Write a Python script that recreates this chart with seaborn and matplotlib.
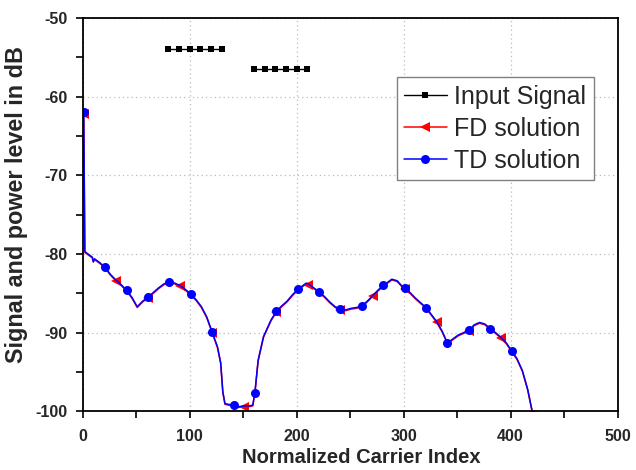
import numpy as np
import matplotlib
matplotlib.use("Agg")
import matplotlib.pyplot as plt
import seaborn as sns
from matplotlib.ticker import MultipleLocator

# ---- data ----
input_x1 = [80, 90, 100, 110, 120, 130]
input_y1 = [-54.0] * 6
input_x2 = [160, 170, 180, 190, 200, 210]
input_y2 = [-56.5] * 6

carrier_x = [1, 2, 6, 9, 10, 11, 16, 21, 26, 31, 36, 41, 46, 51, 56, 61, 66, 71, 76, 81,
             86, 91, 96, 101, 106, 111, 116, 121, 126, 129, 131, 133, 136, 141, 146, 151,
             156, 159, 161, 164, 169, 174, 176, 181, 186, 191, 196, 201, 206, 209, 211,
             216, 221, 226, 231, 236, 241, 246, 251, 256, 261, 266, 271, 276, 281, 286,
             289, 294, 298, 301, 306, 311, 316, 321, 326, 331, 336, 341, 346, 351, 356,
             361, 366, 371, 376, 381, 386, 391, 396, 401, 406, 411, 416, 421]
td_db = [-62.0, -79.7, -80.1, -80.4, -81.0, -80.6, -81.1, -81.7, -82.6, -83.3, -83.9, -84.6,
         -85.5, -86.7, -86.0, -85.5, -84.9, -84.3, -83.8, -83.5, -83.7, -84.0, -84.5, -85.1,
         -85.8, -86.7, -88.0, -89.9, -91.8, -93.8, -97.5, -99.0, -99.1, -99.2, -99.4, -99.3,
         -99.3, -99.2, -97.6, -93.5, -90.5, -89.0, -88.4, -87.3, -86.6, -86.0, -85.2, -84.5,
         -84.0, -83.7, -83.8, -84.3, -84.8, -85.4, -86.1, -86.7, -87.0, -87.1, -86.9, -86.8,
         -86.6, -86.0, -85.3, -84.6, -84.0, -83.5, -83.2, -83.4, -84.0, -84.3, -84.9, -85.6,
         -86.2, -86.8, -87.7, -88.6, -89.8, -91.3, -90.8, -90.3, -90.0, -89.7, -89.0, -88.7,
         -88.9, -89.5, -90.0, -90.6, -91.3, -92.3, -93.3, -94.8, -97.2, -100.5]
fd_db = [-62.2, -79.8, -80.2, -80.5, -81.0, -80.7, -81.2, -81.8, -82.7, -83.4, -84.0, -84.7,
         -85.6, -86.8, -86.1, -85.6, -85.0, -84.4, -83.9, -83.6, -83.8, -84.1, -84.6, -85.2,
         -85.9, -86.8, -88.1, -90.0, -91.9, -93.9, -97.6, -99.1, -99.2, -99.3, -99.5, -99.4,
         -99.4, -99.3, -97.7, -93.6, -90.6, -89.1, -88.5, -87.4, -86.7, -86.1, -85.3, -84.6,
         -84.1, -83.8, -83.9, -84.4, -84.9, -85.5, -86.2, -86.8, -87.1, -87.2, -87.0, -86.9,
         -86.7, -86.1, -85.4, -84.7, -84.1, -83.6, -83.3, -83.5, -84.1, -84.4, -85.0, -85.7,
         -86.3, -86.9, -87.8, -88.7, -89.9, -91.4, -90.9, -90.4, -90.1, -89.8, -89.1, -88.8,
         -89.0, -89.6, -90.1, -90.7, -91.4, -92.4, -93.4, -94.9, -97.3, -100.6]

xticks = [0, 100, 200, 300, 400, 500]
yticks = [-100, -90, -80, -70, -60, -50]

# ---- style ----
sns.set_theme(style="white")
plt.rcParams['font.family'] = ['Liberation Sans', 'DejaVu Sans']
plt.rcParams['axes.unicode_minus'] = False

fig = plt.figure(figsize=(6.36, 4.70), dpi=100)
ax = fig.add_axes([0.130, 0.1247, 0.841, 0.8372])

cx = np.array(carrier_x)
td_marks = list(np.where((cx - 1) % 20 == 0)[0])
fd_marks = list(np.where((cx - 1) % 30 == 0)[0])

# input signal (two groups, single legend entry)
sns.lineplot(x=input_x1, y=input_y1, ax=ax, color='black', marker='s', markersize=5,
             markeredgewidth=0, linewidth=1.0, label='Input Signal')
sns.lineplot(x=input_x2, y=input_y2, ax=ax, color='black', marker='s', markersize=5,
             markeredgewidth=0, linewidth=1.0, label='_nolegend_')

sns.lineplot(x=carrier_x, y=fd_db, ax=ax, color='red', marker='<', markersize=7,
             markeredgewidth=0, linewidth=1.1, markevery=fd_marks, label='FD solution',
             sort=False)
sns.lineplot(x=carrier_x, y=td_db, ax=ax, color='blue', marker='o', markersize=6.5,
             markeredgewidth=0, linewidth=1.1, markevery=td_marks, label='TD solution',
             sort=False)

ax.set_xlim(0, 500)
ax.set_ylim(-100, -50)
ax.set_xticks(xticks)
ax.set_yticks(yticks)
ax.xaxis.set_minor_locator(MultipleLocator(50))
ax.yaxis.set_minor_locator(MultipleLocator(5))
ax.tick_params(axis='both', which='both', direction='out', length=5, width=1.2,
               color='black', bottom=True, left=True, top=False, right=False)
ax.tick_params(axis='x', which='major', labelsize=11.5, pad=8)
ax.tick_params(axis='y', which='major', labelsize=11.5, pad=6)
for lab in ax.get_xticklabels() + ax.get_yticklabels():
    lab.set_fontweight('bold')

ax.grid(True, which='major', linestyle=(0, (1, 2.5)), color='#bbbbbb', linewidth=0.9)
for s in ax.spines.values():
    s.set_color('black')
    s.set_linewidth(1.3)
    s.set_visible(True)

ax.set_xlabel('Normalized Carrier Index', fontsize=14.5, fontweight='bold')
ax.set_ylabel('Signal and power level in dB', fontsize=16.8, fontweight='bold')
ax.xaxis.set_label_coords(0.521, -0.093)
ax.yaxis.set_label_coords(-0.102, 0.527)

leg = ax.legend(loc='upper left', bbox_to_anchor=(0.587, 0.849), fontsize=18,
                frameon=True, fancybox=False, edgecolor='#808080', framealpha=1,
                handlelength=1.7, handletextpad=0.3, borderpad=0.3, labelspacing=0.32,
                borderaxespad=0)
leg.get_frame().set_linewidth(1.0)

fig.savefig('out.png', dpi=100)
